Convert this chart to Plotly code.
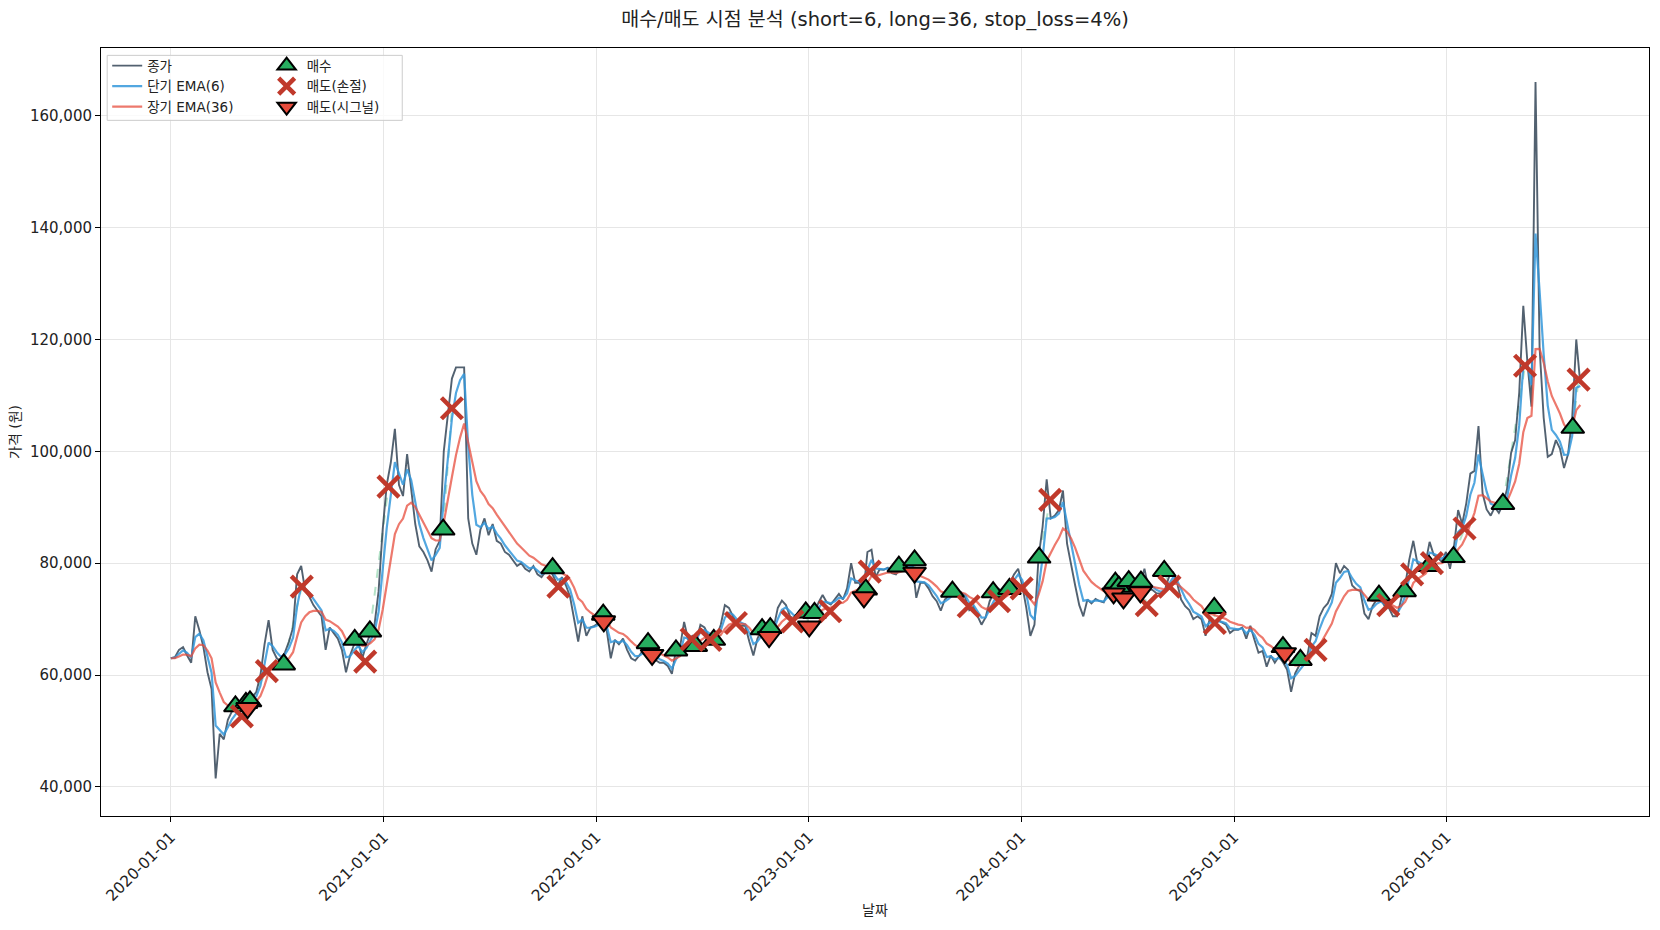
import pandas as pd
import plotly.graph_objects as go

# 주간 종가 (천원 단위, 2020-01-01부터 7일 간격)
close_2020 = [63.0, 63.2, 64.5, 65.0, 63.5, 62.2, 70.5, 68.0, 65.0, 60.5,
              57.5, 41.5, 49.5, 48.5, 52.0, 53.5, 54.0, 54.0, 55.0, 55.6,
              56.0, 57.0, 60.0, 65.5, 69.8, 64.5, 63.0, 62.5, 64.0, 66.0,
              68.5, 78.0, 79.5, 75.0, 74.0, 72.5, 71.5, 70.5, 64.5, 68.5,
              67.5, 66.5, 64.5, 60.5, 63.5, 65.5, 66.0, 63.0, 65.5, 67.5,
              69.0, 75.0, 86.0]
close_2021 = [94.0, 98.0, 104.0, 94.0, 92.0, 99.5, 93.0, 87.0, 83.0, 82.0,
              80.5, 78.5, 82.5, 84.0, 100.0, 106.0, 113.0, 115.0, 115.0, 115.0,
              88.0, 83.5, 81.5, 86.0, 88.0, 85.0, 87.0, 84.0, 83.5, 82.0,
              81.5, 80.5, 79.5, 80.0, 79.0, 78.5, 79.5, 78.0, 77.5, 78.5,
              79.0, 77.5, 76.0, 77.5, 76.0, 74.0, 70.0, 66.0, 70.5, 67.0,
              68.5, 68.8]
close_2022 = [69.3, 70.0, 68.0, 63.0, 66.3, 65.5, 66.5, 64.5, 63.0, 62.6,
              63.5, 64.5, 65.5, 63.5, 62.7, 62.2, 62.2, 61.6, 60.2, 64.5,
              65.0, 69.5, 66.3, 67.0, 66.0, 69.0, 68.5, 67.0, 66.5, 67.0,
              69.0, 72.5, 72.0, 70.5, 69.0, 68.8, 68.8, 66.0, 63.5, 66.5,
              68.0, 67.5, 68.0, 68.5, 72.0, 73.3, 72.5, 70.5, 70.0, 71.0,
              70.5, 70.5]
close_2023 = [70.5, 71.0, 73.0, 74.3, 73.0, 72.6, 73.5, 74.5, 73.5, 75.5,
              80.0, 76.5, 76.5, 74.5, 82.0, 82.4, 77.5, 78.9, 78.8, 79.2,
              78.2, 78.0, 79.1, 79.4, 79.6, 80.0, 73.8, 76.5, 76.5, 75.5,
              74.1, 73.2, 71.5, 73.5, 74.2, 75.0, 75.0, 74.8, 73.8, 71.6,
              72.2, 70.5, 69.0, 70.3, 73.2, 74.6, 75.5, 75.0, 76.0, 76.5,
              78.0, 79.0]
close_2024 = [76.0, 72.0, 67.0, 69.0, 81.0, 86.5, 95.0, 88.0, 88.5, 89.5,
              93.0, 83.5, 79.5, 76.0, 72.5, 70.5, 73.5, 72.8, 73.6, 73.2,
              73.0, 74.8, 75.2, 74.8, 75.0, 75.2, 75.5, 74.5, 75.0, 76.4,
              79.0, 75.5, 75.2, 74.6, 74.6, 75.2, 77.5, 78.5, 76.5, 73.5,
              72.3, 71.6, 70.0, 70.5, 70.0, 67.0, 70.0, 69.4, 69.9, 69.4,
              69.0, 67.5]
close_2025 = [68.1, 68.1, 68.5, 66.5, 68.8, 66.3, 64.0, 64.3, 61.5, 63.5,
              62.2, 63.3, 62.3, 61.0, 57.0, 60.3, 61.7, 62.8, 63.5, 67.5,
              67.0, 70.5, 72.0, 72.8, 74.5, 80.0, 78.2, 79.5, 78.8, 76.0,
              75.3, 75.0, 71.0, 70.0, 72.3, 73.5, 73.5, 72.3, 72.0, 70.5,
              70.5, 73.5, 76.0, 80.6, 84.0, 80.0, 79.5, 80.0, 83.8, 81.5,
              81.0, 80.2]
close_2026 = [82.0, 79.0, 83.0, 89.5, 87.0, 90.7, 96.0, 96.5, 104.5, 92.5,
              89.6, 88.5, 90.0, 89.0, 90.5, 93.2, 99.7, 102.0, 110.5, 126.0,
              116.0, 108.0, 166.0, 118.5, 106.0, 99.0, 99.5, 102.0, 100.5, 97.0,
              99.5, 106.0, 120.0, 112.0]

# 매수 / 매도 시점 (날짜, 가격)
buy_dates = ["2020-04-21", "2020-05-09", "2020-05-16", "2020-07-13", "2020-11-12",
             "2020-12-08", "2021-04-13", "2021-10-18", "2022-01-13", "2022-03-31",
             "2022-05-18", "2022-06-21", "2022-07-22", "2022-10-13", "2022-10-27",
             "2022-12-27", "2023-01-11", "2023-04-09", "2023-06-05", "2023-07-02",
             "2023-09-05", "2023-11-14", "2023-12-12", "2024-02-01", "2024-06-11",
             "2024-06-17", "2024-07-04", "2024-07-25", "2024-09-03", "2024-11-28",
             "2025-03-26", "2025-04-25", "2025-09-07", "2025-10-21", "2025-12-02",
             "2026-01-13", "2026-04-08", "2026-08-06"]
buy_prices = [54400, 55000, 55300, 61900, 66300, 67800, 86000, 79100, 70800, 65700,
              64400, 65200, 66300, 68200, 68400, 71200, 71100, 75300, 79400, 80500,
              74900, 74800, 75400, 81000, 76500, 75800, 76800, 76700, 78600, 72000,
              65000, 62700, 74200, 75000, 79500, 81100, 90600, 104200]

stop_dates = ["2020-05-02", "2020-06-14", "2020-08-13", "2020-11-30", "2021-01-09",
              "2021-04-28", "2021-10-28", "2022-06-14", "2022-07-16", "2022-08-29",
              "2022-12-04", "2023-02-07", "2023-04-16", "2023-10-03", "2023-11-24",
              "2024-01-02", "2024-02-20", "2024-08-04", "2024-09-12", "2024-11-29",
              "2025-05-21", "2025-09-23", "2025-11-03", "2025-12-07", "2026-02-01",
              "2026-05-16", "2026-08-16"]
stop_prices = [52600, 60700, 75800, 62400, 93700, 107700, 75800, 66400, 66300, 69300,
               69600, 71400, 78500, 72300, 73200, 75500, 91300, 72500, 75800, 69300,
               64500, 72500, 78000, 80000, 86200, 115300, 112800]

signal_dates = ["2020-05-12", "2022-01-14", "2022-04-07", "2022-10-25", "2023-01-02",
                "2023-04-06", "2023-07-02", "2024-06-08", "2024-06-25", "2024-07-24",
                "2025-03-29"]
signal_prices = [54100, 69600, 63600, 66800, 68700, 73900, 78300, 74600, 73700, 74800,
                 63900]

close_k = close_2020 + close_2021 + close_2022 + close_2023 + close_2024 + close_2025 + close_2026
dates = pd.date_range("2020-01-01", periods=len(close_k), freq="7D")
close = pd.Series(close_k, index=dates) * 1000
ema_short = close.ewm(span=3, adjust=False).mean()
ema_long = close.ewm(span=9, adjust=False).mean()

# 매수 -> 바로 다음 매도 구간 연결선
events = sorted(
    [(pd.Timestamp(d), p, "buy") for d, p in zip(buy_dates, buy_prices)]
    + [(pd.Timestamp(d), p, "sell") for d, p in zip(stop_dates, stop_prices)]
    + [(pd.Timestamp(d), p, "sell") for d, p in zip(signal_dates, signal_prices)],
    key=lambda e: e[0],
)
seg_x, seg_y = [], []
for a, b in zip(events[:-1], events[1:]):
    if a[2] == "buy" and b[2] == "sell":
        seg_x += [a[0], b[0], None]
        seg_y += [a[1], b[1], None]

FONT = "DejaVu Sans, Noto Sans CJK KR"
fig = go.Figure()
fig.add_trace(go.Scatter(x=seg_x, y=seg_y, mode="lines", showlegend=False,
                         line=dict(color="rgba(39,174,96,0.35)", width=2, dash="dash")))
fig.add_trace(go.Scatter(x=dates, y=close, mode="lines", name="종가",
                         line=dict(color="rgba(44,62,80,0.82)", width=1.9)))
fig.add_trace(go.Scatter(x=dates, y=ema_short, mode="lines", name="단기 EMA(6)",
                         line=dict(color="rgba(52,152,219,0.85)", width=2.2)))
fig.add_trace(go.Scatter(x=dates, y=ema_long, mode="lines", name="장기 EMA(36)",
                         line=dict(color="rgba(231,76,60,0.75)", width=2.2)))
fig.add_trace(go.Scatter(x=buy_dates, y=buy_prices, mode="markers", name="매수",
                         legend="legend2",
                         marker=dict(symbol="triangle-up", size=20, color="#27ae60",
                                     line=dict(color="black", width=2))))
fig.add_trace(go.Scatter(x=stop_dates, y=stop_prices, mode="markers", name="매도(손절)",
                         legend="legend2",
                         marker=dict(symbol="x-thin", size=21, color="#c0392b",
                                     line=dict(color="#c0392b", width=4.5))))
fig.add_trace(go.Scatter(x=signal_dates, y=signal_prices, mode="markers", name="매도(시그널)",
                         legend="legend2",
                         marker=dict(symbol="triangle-down", size=20, color="#e74c3c",
                                     line=dict(color="black", width=2))))

legend_style = dict(bgcolor="rgba(0,0,0,0)", borderwidth=0, font=dict(size=13.5, color="#222"),
                    yanchor="top", xanchor="left", tracegroupgap=0)
fig.update_layout(
    width=1644, height=914,
    font=dict(family=FONT, size=14, color="#222"),
    paper_bgcolor="white", plot_bgcolor="white",
    margin=dict(l=93, r=3, t=40, b=106),
    title=dict(text="매수/매도 시점 분석 (short=6, long=36, stop_loss=4%)",
               x=0.5, xref="paper", xanchor="center", y=0.988, yref="container",
               yanchor="middle", font=dict(size=19.5, family=FONT)),
    legend=dict(x=0.004, y=0.997, **legend_style),
    legend2=dict(x=0.107, y=0.997, **legend_style),
    shapes=[dict(type="rect", xref="paper", yref="paper", x0=0.004, x1=0.1946,
                 y0=0.9058, y1=0.9904, line=dict(color="#cccccc", width=1),
                 fillcolor="rgba(255,255,255,0.8)", layer="above")],
    annotations=[
        dict(text="가격 (원)", xref="paper", yref="paper", x=-0.0556, y=0.5,
             xanchor="center", yanchor="middle", textangle=-90, showarrow=False,
             font=dict(size=14)),
        dict(text="날짜", xref="paper", yref="paper", x=0.5, y=-0.1223,
             xanchor="center", yanchor="middle", showarrow=False, font=dict(size=14)),
    ],
)
fig.update_xaxes(
    range=["2019-09-03", "2026-12-15"],
    tick0="2020-01-01", dtick="M12", tickformat="%Y-%m-%d", tickangle=-45,
    showgrid=True, gridcolor="#e6e6e6", showline=True, linecolor="black", linewidth=1,
    mirror=True, ticks="outside", ticklen=5, tickcolor="black", tickfont=dict(size=15.5),
    zeroline=False,
)
fig.update_yaxes(
    range=[34800, 172100], dtick=20000, tickformat=",",
    showgrid=True, gridcolor="#e6e6e6", showline=True, linecolor="black", linewidth=1,
    mirror=True, ticks="outside", ticklen=5, tickcolor="black", tickfont=dict(size=15),
    zeroline=False,
)
fig.write_html("out.html")
